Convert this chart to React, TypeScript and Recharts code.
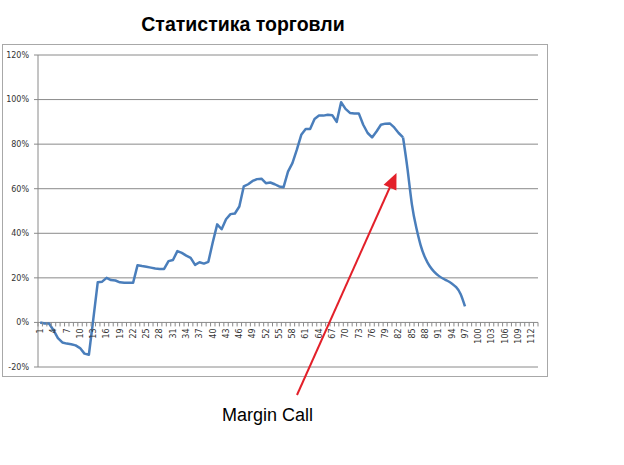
import React from "react";
import {
  LineChart,
  Line,
  XAxis,
  YAxis,
  CartesianGrid,
} from "recharts";

// chart size and plot placement (px)
const W = 624;
const H = 465;
const PLOT_LEFT = 38;
const PLOT_RIGHT = 538;
const PLOT_TOP = 55;
const PLOT_BOTTOM = 367;
const X_AXIS_H = 30;

const TITLE = "Статистика торговли";
const NOTE = "Margin Call";

// categories 1..113 on the x axis
const CATEGORIES = Array.from({ length: 113 }, (_, i) => i + 1);

// trade result, %, categories 1..97
const RESULT = [
  0, -0.5, -0.5, -3.5, -7, -9, -9.5, -9.8, -10.3, -11.5,
  -14, -14.5, 1.5, 18, 18.3, 20, 19, 18.8, 18, 17.8,
  17.8, 17.8, 25.7, 25.3, 25, 24.6, 24.2, 24, 24, 27.5,
  28, 32, 31.2, 30, 29, 25.8, 27, 26.4, 27.2, 36,
  44, 41.8, 46.3, 48.6, 48.9, 52, 61, 62, 63.5, 64.3,
  64.5, 62.5, 62.8, 62, 61, 60.7, 67.7, 71.5, 77.5, 84.2,
  86.8, 86.8, 91.3, 92.8, 92.8, 93.2, 93, 90, 98.8, 95.8,
  94, 93.8, 93.8, 88.7, 85, 83, 85.7, 88.7, 89.2, 89.3,
  87.5, 85, 83, 69, 53, 42.5, 34.5, 29, 25.3, 22.8,
  21, 19.7, 18.7, 17.5, 15.8, 12.8, 7.2,
];

// after the margin call the curve is drawn smoothed
const MARGIN_CALL_CAT = 83;

const Y_TICKS = [-20, 0, 20, 40, 60, 80, 100, 120];

const data = CATEGORIES.map((c, i) => {
  const v = i < RESULT.length ? RESULT[i] : null;
  return {
    cat: c,
    before: c <= MARGIN_CALL_CAT ? v : null,
    after: c >= MARGIN_CALL_CAT ? v : null,
  };
});

const PLOT_W = PLOT_RIGHT - PLOT_LEFT;
const PLOT_H = PLOT_BOTTOM - PLOT_TOP;
const HALF_BAND = PLOT_W / CATEGORIES.length / 2;
const Y_MIN = Y_TICKS[0];
const Y_MAX = Y_TICKS[Y_TICKS.length - 1];
// the category axis crosses at 0%
const ZERO_Y = PLOT_TOP + (PLOT_H * Y_MAX) / (Y_MAX - Y_MIN);

const GRID = "#8a8a8a";
const TEXT = "#333333";
const LINE = "#4a7ebb";
const FONT = "'DejaVu Sans', sans-serif";

function CatTick(props: any) {
  const { x, payload } = props;
  const i = CATEGORIES.indexOf(payload.value);
  const last = i === CATEGORIES.length - 1;
  return (
    <g>
      <line x1={x - HALF_BAND} x2={x - HALF_BAND} y1={ZERO_Y} y2={ZERO_Y + 4} stroke={GRID} />
      {last && (
        <line x1={x + HALF_BAND} x2={x + HALF_BAND} y1={ZERO_Y} y2={ZERO_Y + 4} stroke={GRID} />
      )}
      {i % 3 === 0 && (
        <text
          x={x}
          y={ZERO_Y + 6}
          transform={`rotate(-90, ${x}, ${ZERO_Y + 6})`}
          textAnchor="end"
          dy="0.35em"
          fontSize={8}
          fontFamily={FONT}
          fill={TEXT}
        >
          {payload.value}
        </text>
      )}
    </g>
  );
}

export default function App() {
  return (
    <div style={{ position: "absolute", left: 0, top: 0, width: W, height: H, background: "#fff" }}>
      <div
        style={{
          position: "absolute",
          left: 2,
          top: 44,
          width: 546,
          height: 333,
          border: "1px solid #a8a8a8",
          boxSizing: "border-box",
        }}
      />
      <div style={{ position: "absolute", left: 0, top: 0 }}>
        <LineChart
          width={W}
          height={H}
          data={data}
          margin={{ top: PLOT_TOP, right: W - PLOT_RIGHT, bottom: H - PLOT_BOTTOM - X_AXIS_H, left: 0 }}
        >
          <CartesianGrid horizontal vertical={false} stroke={GRID} />
          <XAxis
            dataKey="cat"
            type="category"
            interval={0}
            height={X_AXIS_H}
            axisLine={false}
            tickLine={false}
            tickSize={0}
            tickMargin={0}
            padding={{ left: HALF_BAND, right: HALF_BAND }}
            tick={<CatTick />}
          />
          <YAxis
            width={PLOT_LEFT}
            type="number"
            domain={[Y_MIN, Y_MAX]}
            ticks={Y_TICKS}
            interval={0}
            axisLine={{ stroke: GRID }}
            tickLine={{ stroke: GRID }}
            tickSize={4}
            tickMargin={5}
            tickFormatter={(v: number) => `${v}%`}
            tick={{ fontSize: 8, fontFamily: FONT, fill: TEXT }}
          />
          <Line
            dataKey="before"
            type="linear"
            stroke={LINE}
            strokeWidth={2.5}
            strokeLinejoin="round"
            dot={false}
            activeDot={false}
            isAnimationActive={false}
          />
          <Line
            dataKey="after"
            type="natural"
            stroke={LINE}
            strokeWidth={2.5}
            dot={false}
            activeDot={false}
            isAnimationActive={false}
          />
        </LineChart>
      </div>
      <svg
        width={W}
        height={H}
        style={{ position: "absolute", left: 0, top: 0, pointerEvents: "none" }}
      >
        <text
          x={243}
          y={31}
          textAnchor="middle"
          fontSize={19.5}
          fontWeight="bold"
          fontFamily="'Liberation Sans', Arial, sans-serif"
          fill="#000"
        >
          {TITLE}
        </text>
        <line x1={297} y1={395} x2={390} y2={187} stroke="#e3202a" strokeWidth={2} />
        <polygon points="396.5,173 383.6,184.7 396.4,190.5" fill="#e3202a" />
        <text
          x={222}
          y={421}
          fontSize={18}
          fontFamily="'Liberation Sans', Arial, sans-serif"
          fill="#000"
        >
          {NOTE}
        </text>
      </svg>
    </div>
  );
}
